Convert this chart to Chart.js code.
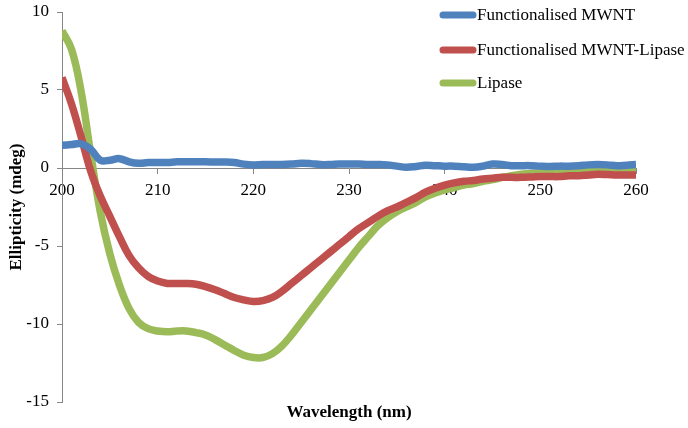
<!DOCTYPE html>
<html>
<head>
<meta charset="utf-8">
<script src="https://cdn.jsdelivr.net/npm/chart.js@4"></script>
<style>
  html, body { margin: 0; padding: 0; background: #fff; }
  #wrap { width: 688px; height: 428px; }
</style>
</head>
<body>
<div id="wrap"><canvas id="cd_chart"></canvas></div>
<script>
// wavelength (nm)
const wavelength = [];
for (let w = 200; w <= 260; w++) wavelength.push(w);

const mwnt = [1.45, 1.5, 1.55, 1.2, 0.5, 0.5, 0.6, 0.4, 0.3, 0.35, 0.35, 0.35, 0.4, 0.4, 0.4, 0.4, 0.38, 0.38, 0.35, 0.25,
  0.2, 0.22, 0.22, 0.22, 0.25, 0.3, 0.28, 0.22, 0.22, 0.25, 0.25, 0.25, 0.22, 0.22, 0.2, 0.12, 0.05, 0.1, 0.18, 0.15,
  0.12, 0.12, 0.08, 0.05, 0.12, 0.25, 0.22, 0.15, 0.15, 0.15, 0.12, 0.1, 0.12, 0.12, 0.15, 0.2, 0.22, 0.2, 0.15, 0.18, 0.22];

const mwntLipase = [5.8, 4.1, 2.0, -0.2, -1.8, -3.1, -4.4, -5.6, -6.4, -6.95, -7.25, -7.4, -7.4, -7.4, -7.45, -7.6, -7.8, -8.05, -8.3, -8.45,
  -8.55, -8.5, -8.3, -7.9, -7.4, -6.9, -6.4, -5.9, -5.4, -4.9, -4.4, -3.9, -3.5, -3.1, -2.75, -2.5, -2.2, -1.9, -1.55, -1.3,
  -1.1, -0.95, -0.85, -0.8, -0.7, -0.65, -0.6, -0.6, -0.6, -0.58, -0.55, -0.55, -0.55, -0.5, -0.5, -0.45, -0.4, -0.42, -0.45, -0.45, -0.45];

const lipase = [8.8, 7.6, 4.9, 0.9, -2.8, -5.5, -7.5, -9.0, -9.9, -10.3, -10.45, -10.5, -10.45, -10.45, -10.55, -10.7, -11.0, -11.35, -11.7, -12.0,
  -12.15, -12.15, -11.9, -11.4, -10.7, -9.9, -9.1, -8.3, -7.5, -6.7, -5.9, -5.1, -4.4, -3.7, -3.2, -2.8, -2.5, -2.2, -1.85, -1.6,
  -1.4, -1.25, -1.1, -1.0, -0.85, -0.75, -0.6, -0.5, -0.4, -0.35, -0.3, -0.28, -0.25, -0.2, -0.15, -0.12, -0.1, -0.12, -0.12, -0.1, -0.08];

const seriesNames = ['Functionalised MWNT', 'Functionalised MWNT-Lipase', 'Lipase'];
const seriesColors = ['#4F81BD', '#C0504D', '#9BBB59'];
const xTicks = [200, 210, 220, 230, 240, 250, 260];
const yTicks = [10, 5, 0, -5, -10, -15];

const serif = "'Liberation Serif', 'Times New Roman', serif";

function toPoints(vals){
    return vals.map((v, i) => ({x: wavelength[i], y: v}));
}

// legend drawn inside the plot area (top right) + x axis title centred under the plot
const extras = {
    id: 'extras',
    afterDraw(chart){
        const ctx = chart.ctx;
        const area = chart.chartArea;
        ctx.save();
        const rows = [15, 50, 83];
        chart.data.datasets.forEach((ds, i) => {
            ctx.strokeStyle = ds.borderColor;
            ctx.lineWidth = 7;
            ctx.lineCap = 'round';
            ctx.beginPath();
            ctx.moveTo(443, rows[i]);
            ctx.lineTo(473, rows[i]);
            ctx.stroke();
            ctx.fillStyle = '#000';
            ctx.font = '17px ' + serif;
            ctx.textBaseline = 'middle';
            ctx.textAlign = 'left';
            ctx.fillText(ds.label, 477, rows[i] + 1);
        });
        ctx.font = 'bold 17px ' + serif;
        ctx.textAlign = 'center';
        ctx.textBaseline = 'middle';
        ctx.fillText('Wavelength (nm)', (area.left + area.right) / 2, area.bottom + 11);
        ctx.restore();
    }
};

const cd_chart = document.getElementById('cd_chart').getContext('2d');

new Chart(cd_chart, {
    type: 'line',
    data: {
        datasets: [
            {label: seriesNames[0], data: toPoints(mwnt)},
            {label: seriesNames[1], data: toPoints(mwntLipase)},
            {label: seriesNames[2], data: toPoints(lipase)}
        ].map((d, i) => Object.assign(d, {
            borderColor: seriesColors[i],
            backgroundColor: seriesColors[i],
            borderWidth: 7.5,
            pointRadius: 0,
            tension: 0.4,
            fill: false
        }))
    },
    options: {
        responsive: true,
        maintainAspectRatio: false,
        animation: false,
        layout: {padding: {top: 12, right: 52, left: 0, bottom: 26}},
        plugins: {
            legend: {display: false},
            tooltip: {enabled: false}
        },
        scales: {
            x: {
                type: 'linear',
                position: {y: 0},
                min: 200,
                max: 260,
                afterBuildTicks: (axis) => { axis.ticks = xTicks.map(v => ({value: v})); },
                grid: {display: true, drawOnChartArea: false, drawTicks: true, tickLength: 5, color: '#868686'},
                border: {display: true, color: '#868686', width: 1},
                ticks: {color: '#000', font: {family: serif, size: 17}, padding: 7, maxRotation: 0}
            },
            y: {
                min: -15,
                max: 10,
                afterBuildTicks: (axis) => { axis.ticks = yTicks.map(v => ({value: v})); },
                afterFit: (axis) => {
                    axis.width = 62;
                    axis.paddingTop = 0;
                    axis.paddingBottom = 0;
                },
                grid: {display: true, drawOnChartArea: false, drawTicks: true, tickLength: 5, color: '#868686'},
                border: {display: true, color: '#868686', width: 1},
                ticks: {color: '#000', font: {family: serif, size: 17}, padding: 8},
                title: {
                    display: true,
                    text: 'Ellipticity (mdeg)',
                    color: '#000',
                    font: {family: serif, size: 17, weight: 'bold'},
                    padding: {top: 6, bottom: 0}
                }
            }
        }
    },
    plugins: [extras]
});
</script>
</body>
</html>
